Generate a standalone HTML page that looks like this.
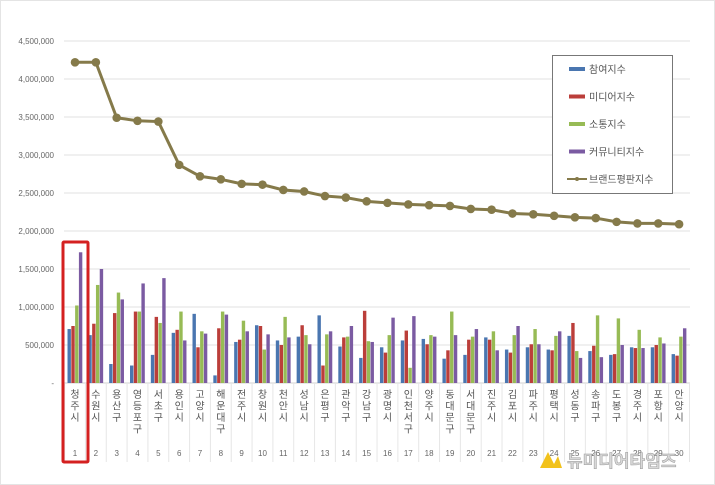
<!DOCTYPE html>
<html><head><meta charset="utf-8"><style>
body{margin:0;background:#fff;}
svg{display:block;font-family:"Liberation Sans","Noto Sans CJK KR",sans-serif;}
</style></head><body>
<svg id="s" width="715" height="485" viewBox="0 0 715 485" xmlns="http://www.w3.org/2000/svg"></svg>
<script>
const s=document.getElementById('s');let h='';
h+='<rect x="0.5" y="0.5" width="714" height="484" fill="#fff" stroke="#e4e4e4"/>';
const Y=v=>383-v/500*38;
for(let i=0;i<=9;i++){const y=Y(i*500);
 if(i>0)h+=`<line x1="64" x2="690" y1="${y}" y2="${y}" stroke="#e2e2e2"/>`;
 const lab=i==0?'-':(i*500000).toLocaleString('en-US');
 h+=`<text x="54" y="${y+3}" font-size="8" fill="#666" text-anchor="end">${lab}</text>`;}
h+='<line x1="64" x2="690" y1="383" y2="383" stroke="#d0d0d0"/>';
const names=['청주시','수원시','용산구','영등포구','서초구','용인시','고양시','해운대구','전주시','창원시','천안시','성남시','은평구','관악구','강남구','광명시','인천서구','양주시','동대문구','서대문구','진주시','김포시','파주시','평택시','성동구','송파구','도봉구','경주시','포항시','안양시'];
const d=[[710,750,1020,1720,4220],[630,780,1290,1500,4220],[250,920,1190,1100,3490],[230,940,940,1310,3450],[370,870,790,1380,3440],[660,700,940,560,2870],[910,470,680,650,2720],[100,720,940,900,2680],[540,570,820,680,2620],[760,750,440,640,2610],[560,500,870,600,2540],[610,760,630,510,2520],[890,230,640,680,2460],[480,600,610,750,2440],[330,950,550,540,2390],[470,400,630,860,2370],[560,690,200,880,2350],[580,510,630,610,2340],[320,430,940,630,2330],[370,570,610,710,2290],[600,570,680,430,2280],[440,400,630,750,2230],[470,510,710,510,2220],[440,430,620,680,2200],[620,790,420,330,2180],[420,490,890,340,2170],[370,380,850,500,2120],[470,460,700,460,2100],[470,500,600,520,2100],[380,360,610,720,2090]];
const cols=['#4a76b0','#bb3e3a','#97bb55','#7b5ba2'];
const w=20.83,x0=64.6;
let pts=[];
d.forEach((r,i)=>{const c=x0+w*i+w/2;
 h+=`<line x1="${x0+w*i}" x2="${x0+w*i}" y1="383" y2="462" stroke="#e6e6e6"/>`;
 for(let k=0;k<4;k++){const y=Y(r[k]);h+=`<rect x="${c-7.5+k*3.8}" y="${y}" width="3.4" height="${383-y}" fill="${cols[k]}"/>`;}
 pts.push([c,Y(r[4])]);
 const n=names[i];let ty=398;
 for(const ch of n){h+=`<text x="${c}" y="${ty}" font-size="10" fill="#555" text-anchor="middle">${ch}</text>`;ty+=11.5;}
 h+=`<text x="${c}" y="456" font-size="8" fill="#666" text-anchor="middle">${i+1}</text>`;
});
h+=`<line x1="${x0+w*30}" x2="${x0+w*30}" y1="383" y2="462" stroke="#e6e6e6"/>`;
h+=`<polyline points="${pts.map(p=>p.join(',')).join(' ')}" fill="none" stroke="#857a4a" stroke-width="3"/>`;
pts.forEach(p=>h+=`<circle cx="${p[0]}" cy="${p[1]}" r="4.3" fill="#857a4a"/>`);
h+='<rect x="63" y="242" width="25" height="220" fill="none" stroke="#d42020" stroke-width="3" rx="1"/>';
h+='<rect x="552.5" y="55.5" width="120" height="138" fill="#fff" stroke="#777"/>';
const lg=['참여지수','미디어지수','소통지수','커뮤니티지수','브랜드평판지수'];
lg.forEach((t,i)=>{const y=69+i*27.5;
 if(i<4)h+=`<rect x="569" y="${y-2}" width="16" height="4" fill="${cols[i]}"/>`;
 else{h+=`<line x1="567" x2="587" y1="${y}" y2="${y}" stroke="#857a4a" stroke-width="2"/><circle cx="577" cy="${y}" r="2" fill="#857a4a"/>`;}
 h+=`<text x="589" y="${y+4}" font-size="10" fill="#555">${t}</text>`;});
h+='<path d="M540 468 L548 452 L556 468 Z M552 468 L558 456 L562 468Z" fill="#f2c21b"/>';
h+='<text x="567" y="467" font-size="17" font-weight="bold" fill="#d8d8d8" stroke="#999" stroke-width="0.5">뉴미디어타임즈</text>';
s.innerHTML=h;
</script>
</body></html>
